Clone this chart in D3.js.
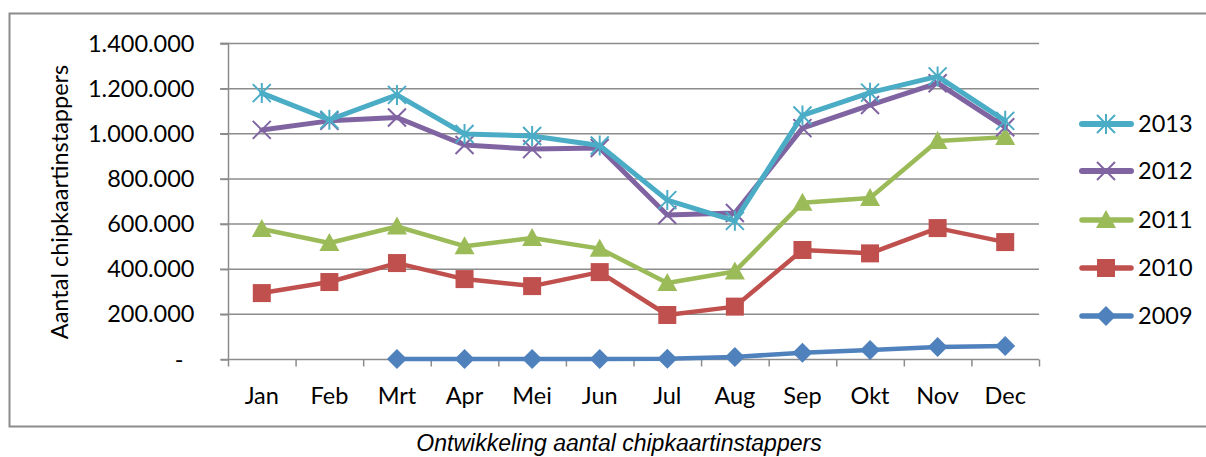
<!DOCTYPE html>
<html><head><meta charset="utf-8">
<script src="https://cdn.jsdelivr.net/npm/d3@7"></script>
<style>body{margin:0;background:#fff}svg{display:block}</style>
</head><body>
<script>
const months = ["Jan","Feb","Mrt","Apr","Mei","Jun","Jul","Aug","Sep","Okt","Nov","Dec"];
const yTicks = [0,200000,400000,600000,800000,1000000,1200000,1400000];
const s2013 = [1178000,1060000,1170000,997000,988000,946000,704000,612000,1079000,1180000,1252000,1055000];
const s2012 = [1015000,1055000,1070000,948000,930000,935000,638000,647000,1023000,1125000,1222000,1027000];
const s2011 = [576000,514000,587000,500000,536000,489000,337000,388000,692000,713000,966000,983000];
const s2010 = [292000,341000,425000,354000,323000,385000,195000,232000,483000,468000,580000,518000];
const s2009 = [null,null,0,0,0,0,1000,9000,28000,40000,53000,58000];
const seriesNames = ["2013","2012","2011","2010","2009"];

const W=1206,H=457;
const svg=d3.select("body").append("svg").attr("width",W).attr("height",H);
const font="Lato, 'Open Sans', sans-serif";
const fs=23.5;

// outer border
svg.append("path").attr("d","M1210,13.5 H9.5 V426.5 H1210").attr("fill","none").attr("stroke","#8c8c8c").attr("stroke-width",2);

const x=d3.scaleBand().domain(months).range([228,1039]);
const y=d3.scaleLinear().domain([0,1400000]).range([359,43]);

// gridlines
svg.append("g").selectAll("line").data(yTicks.filter(d=>d>0)).join("line")
  .attr("x1",220).attr("x2",1039).attr("y1",d=>y(d)+0.5).attr("y2",d=>y(d)+0.5)
  .attr("stroke","#8c8c8c").attr("stroke-width",1.5);

const fmt=d=>d===0?"-":d3.format(",")(d).replace(/,/g,".");
const yAxis=d3.axisLeft(y).tickValues(yTicks).tickFormat(fmt).tickSize(8).tickPadding(26);
const gy=svg.append("g").attr("transform","translate(228.5,0.5)").call(yAxis);
gy.select(".domain").attr("stroke","#8c8c8c").attr("stroke-width",1.5).attr("d","M-8,"+(y(1400000))+"H0V"+(y(0)+0)+"H-8");
gy.selectAll(".tick line").attr("stroke","#8c8c8c").attr("stroke-width",1.5);
gy.selectAll("text").attr("font-family",font).attr("font-size",fs).attr("fill","#000");
gy.selectAll(".tick").filter(d=>d===0).select("text").attr("dx",-11);

// x axis
const gx=svg.append("g").attr("transform","translate(0,"+(y(0)+0.5)+")");
gx.append("line").attr("x1",228).attr("x2",1039).attr("stroke","#8c8c8c").attr("stroke-width",1.5);
const bounds=months.map(m=>x(m)).concat([1039]);
gx.selectAll("line.t").data(bounds).join("line").attr("class","t")
  .attr("x1",d=>d+0.5).attr("x2",d=>d+0.5).attr("y1",0).attr("y2",7)
  .attr("stroke","#8c8c8c").attr("stroke-width",1.5);
gx.selectAll("text").data(months).join("text")
  .attr("x",d=>x(d)+x.bandwidth()/2).attr("y",44)
  .attr("text-anchor","middle").attr("font-family",font).attr("font-size",fs).attr("fill","#000").text(d=>d);

// axis title
svg.append("text").attr("transform","translate(68,202) rotate(-90)").attr("text-anchor","middle")
  .attr("font-family",font).attr("font-size",fs).attr("fill","#000").text("Aantal chipkaartinstappers");

// caption
svg.append("text").attr("x",619).attr("y",451).attr("text-anchor","middle")
  .attr("font-family","'Liberation Sans', Arial, sans-serif").attr("font-style","italic").attr("font-size",23).attr("fill","#000")
  .text("Ontwikkeling aantal chipkaartinstappers");

const colors={"2013":"#4BACC6","2012":"#8064A2","2011":"#9BBB59","2010":"#C0504D","2009":"#4F81BD"};
const dataMap={"2013":s2013,"2012":s2012,"2011":s2011,"2010":s2010,"2009":s2009};
const widths={"2013":5,"2012":5,"2011":4.5,"2010":4.5,"2009":4.5};

function marker(g,name,cx,cy){
  const c=colors[name];
  if(name==="2013"){
    const r=9;
    g.append("path").attr("d",`M${cx-r},${cy-r}L${cx+r},${cy+r}M${cx-r},${cy+r}L${cx+r},${cy-r}M${cx},${cy-r-1}V${cy+r+1}`)
      .attr("stroke",c).attr("stroke-width",2).attr("fill","none");
  } else if(name==="2012"){
    const r=9;
    g.append("path").attr("d",`M${cx-r},${cy-r}L${cx+r},${cy+r}M${cx-r},${cy+r}L${cx+r},${cy-r}`)
      .attr("stroke",c).attr("stroke-width",2).attr("fill","none");
  } else if(name==="2011"){
    g.append("path").attr("d",`M${cx},${cy-10}L${cx+10},${cy+8}L${cx-10},${cy+8}Z`).attr("fill",c);
  } else if(name==="2010"){
    g.append("rect").attr("x",cx-9).attr("y",cy-9).attr("width",18).attr("height",18).attr("fill",c);
  } else {
    g.append("path").attr("d",`M${cx},${cy-10}L${cx+10},${cy}L${cx},${cy+10}L${cx-10},${cy}Z`).attr("fill",c);
  }
}

const cx=m=>x(m)+x.bandwidth()/2;
const drawOrder=["2009","2010","2011","2012","2013"];
drawOrder.forEach(name=>{
  const vals=dataMap[name];
  const pts=months.map((m,i)=>({m,v:vals[i]})).filter(d=>d.v!==null);
  const line=d3.line().x(d=>cx(d.m)).y(d=>y(d.v));
  const g=svg.append("g");
  g.append("path").attr("d",line(pts)).attr("fill","none").attr("stroke",colors[name])
    .attr("stroke-width",widths[name]).attr("stroke-linejoin","round").attr("stroke-linecap","round");
  pts.forEach(p=>marker(g,name,cx(p.m),y(p.v)));
});

// legend
const legY={"2013":124,"2012":171,"2011":220,"2010":268,"2009":316};
seriesNames.forEach(name=>{
  const g=svg.append("g");
  const ly=legY[name];
  g.append("line").attr("x1",1082).attr("x2",1131).attr("y1",ly).attr("y2",ly)
    .attr("stroke",colors[name]).attr("stroke-width",widths[name]+1).attr("stroke-linecap","round");
  marker(g,name,1106,ly);
  g.append("text").attr("x",1138).attr("y",ly+8).attr("font-family",font).attr("font-size",fs).attr("fill","#000").text(name);
});
</script>
</body></html>
